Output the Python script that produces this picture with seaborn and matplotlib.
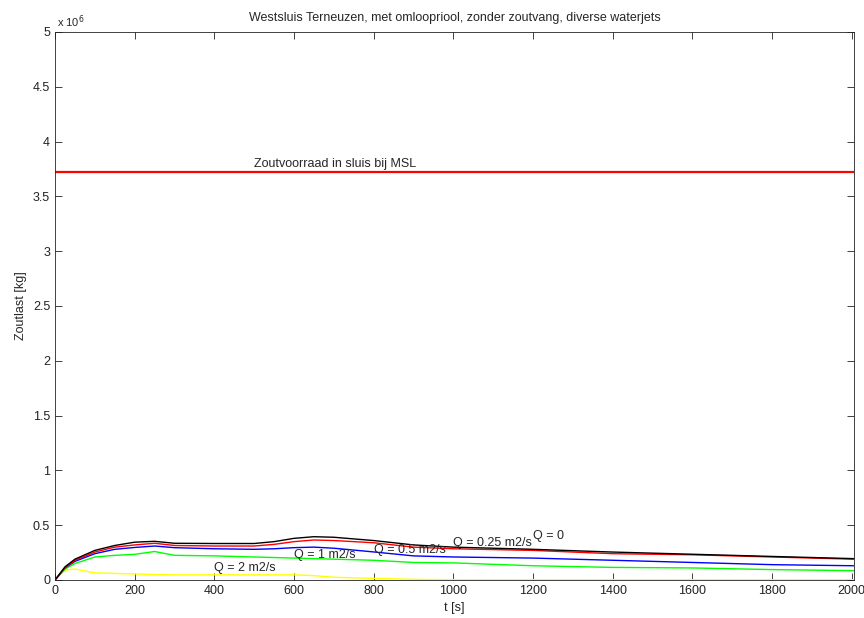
import numpy as np
import pandas as pd
import seaborn as sns
from matplotlib import pyplot as plt
from matplotlib.ticker import FuncFormatter

# time points [s]
t = [0, 25, 50, 100, 150, 200, 250, 300, 400, 500, 550, 600, 650, 700,
     800, 900, 1000, 1200, 1400, 1600, 1800, 2005]

# zoutlast in units of 1e6 kg, per waterjet debiet
q0 = [0, 0.12, 0.19, 0.27, 0.315, 0.345, 0.353, 0.335, 0.333, 0.333, 0.35,
      0.38, 0.395, 0.39, 0.36, 0.32, 0.30, 0.28, 0.255, 0.235, 0.215, 0.195]
q025 = [0, 0.11, 0.18, 0.255, 0.30, 0.32, 0.335, 0.315, 0.31, 0.31, 0.325,
        0.35, 0.365, 0.36, 0.34, 0.30, 0.285, 0.27, 0.24, 0.23, 0.21, 0.19]
q05 = [0, 0.11, 0.17, 0.24, 0.28, 0.297, 0.31, 0.295, 0.285, 0.28, 0.285,
       0.295, 0.30, 0.29, 0.256, 0.22, 0.21, 0.20, 0.18, 0.16, 0.14, 0.13]
q1 = [0, 0.10, 0.15, 0.21, 0.225, 0.234, 0.26, 0.225, 0.22, 0.21, 0.205,
      0.20, 0.195, 0.19, 0.18, 0.16, 0.156, 0.13, 0.115, 0.11, 0.095, 0.085]
q2 = [0, 0.09, 0.10, 0.065, 0.06, 0.055, 0.05, 0.047, 0.047, 0.047, 0.047,
      0.047, 0.04, 0.025, 0.015, 0.006, 0.003, 0.003, 0.003, 0.003, 0.003, 0.003]

voorraad = 3.725  # 1e6 kg

series = [
    (q2, (1, 1, 0)),
    (q1, (0, 1, 0)),
    (q05, (0, 0, 1)),
    (q025, (1, 0, 0)),
    (q0, (0, 0, 0)),
]

labels = [
    ("Q = 0", 1200, 0.40),
    ("Q = 0.25 m2/s", 1000, 0.34),
    ("Q = 0.5 m2/s", 800, 0.27),
    ("Q = 1 m2/s", 600, 0.225),
    ("Q = 2 m2/s", 400, 0.11),
]

sns.set_style("ticks")
plt.rcParams['font.family'] = ['Liberation Sans', 'DejaVu Sans']
plt.rcParams['font.size'] = 9
plt.rcParams['xtick.direction'] = 'in'
plt.rcParams['ytick.direction'] = 'in'

fig = plt.figure(figsize=(8.64, 6.18), dpi=100)
ax = fig.add_axes([55 / 864, 1 - 580 / 618, 799 / 864, 548 / 618])

for vals, col in series:
    sns.lineplot(x=t, y=np.array(vals) * 1e6, color=col, lw=1, ax=ax)

ax.axhline(voorraad * 1e6, color=(1, 0, 0), lw=1.6)
ax.text(500, voorraad * 1e6 + 0.02e6, "Zoutvoorraad in sluis bij MSL",
        ha='left', va='bottom', fontsize=9)

for txt, x, y in labels:
    ax.text(x, y * 1e6, txt, ha='left', va='center', fontsize=9)

ax.set_xlim(0, 2006)
ax.set_ylim(0, 5e6)
ax.set_xticks(np.arange(0, 2001, 200))
ax.set_yticks(np.arange(0, 5.01, 0.5) * 1e6)
ax.yaxis.set_major_formatter(FuncFormatter(lambda v, p: f"{v / 1e6:g}"))
ax.tick_params(top=True, right=True, length=5, width=0.6, labelsize=9, colors='#222222')
for s in ax.spines.values():
    s.set_visible(True)
    s.set_linewidth(0.6)
    s.set_color('#222222')

ax.text(0.003, 1.004, "x 10$^{6}$", transform=ax.transAxes, ha='left', va='bottom', fontsize=8)
ax.set_title("Westsluis Terneuzen, met omloopriool, zonder zoutvang, diverse waterjets",
             fontsize=9, pad=8)
ax.set_xlabel("t [s]", fontsize=9)
ax.set_ylabel("Zoutlast [kg]", fontsize=9)

fig.savefig("out.png", dpi=100)
